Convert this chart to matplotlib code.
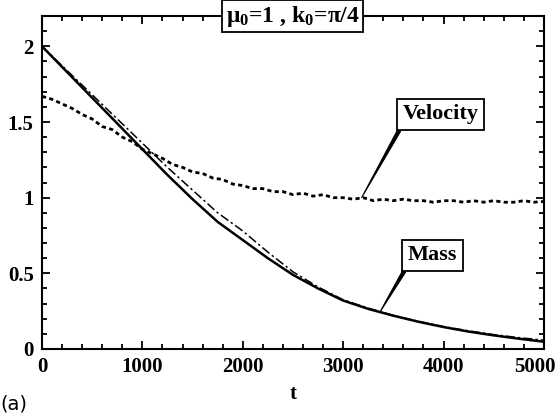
import numpy as np
import matplotlib
matplotlib.use("Agg")
import matplotlib.pyplot as plt
from matplotlib.ticker import MultipleLocator

plt.rcParams['font.family'] = ['Liberation Serif', 'DejaVu Serif']
plt.rcParams['font.weight'] = 'bold'
plt.rcParams['mathtext.fontset'] = 'custom'
plt.rcParams['mathtext.rm'] = 'Liberation Serif:bold'
plt.rcParams['mathtext.it'] = 'Liberation Serif:bold'
plt.rcParams['mathtext.bf'] = 'Liberation Serif:bold'
plt.rcParams['mathtext.default'] = 'rm'

# mass curves, t every 250
t_mass = np.arange(0, 5001, 250)
mass_solid = [2.0, 1.83, 1.66, 1.49, 1.32, 1.15, 0.99, 0.84, 0.72, 0.60, 0.49,
              0.40, 0.32, 0.265, 0.22, 0.18, 0.145, 0.115, 0.09, 0.068, 0.048]
mass_dashdot = [2.0, 1.84, 1.68, 1.52, 1.36, 1.20, 1.05, 0.90, 0.78, 0.64, 0.51,
                0.41, 0.325, 0.27, 0.222, 0.183, 0.148, 0.12, 0.095, 0.075, 0.058]

# velocity, t every 100
t_vel = np.arange(0, 5001, 100)
velocity = [1.67, 1.65, 1.62, 1.59, 1.55, 1.52, 1.47, 1.45, 1.40, 1.37, 1.32,
            1.29, 1.26, 1.22, 1.20, 1.17, 1.16, 1.13, 1.12, 1.09, 1.08,
            1.06, 1.06, 1.04, 1.04, 1.02, 1.03, 1.01, 1.02, 1.00, 1.00,
            0.99, 1.00, 0.98, 0.99, 0.98, 0.99, 0.98, 0.98, 0.97, 0.98,
            0.98, 0.97, 0.98, 0.97, 0.98, 0.97, 0.97, 0.98, 0.97, 0.975]

xticks = [0, 1000, 2000, 3000, 4000, 5000]
xticklabels = ['0', '1000', '2000', '3000', '4000', '5000']

fig = plt.figure(figsize=(5.55, 4.13), dpi=100)
ax = fig.add_axes([0.0757, 0.155, 0.9043, 0.806])

ax.plot(t_mass, mass_solid, color='black', lw=1.8, ls='-')
ax.plot(t_mass, mass_dashdot, color='black', lw=1.1, ls=(0, (6, 2, 1.5, 2)))
ax.plot(t_vel, velocity, color='black', lw=2.0, ls=(0, (1.5, 1.2)))

ax.set_xlim(0, 5000)
ax.set_ylim(0, 2.2)
ax.set_xticks(xticks)
# last label is nudged left so it stays inside the figure
ax.set_xticklabels(xticklabels[:-1] + [''])
ax.xaxis.set_minor_locator(MultipleLocator(200))
ax.yaxis.set_minor_locator(MultipleLocator(0.1))
ax.set_yticks([0, 0.5, 1, 1.5, 2])
ax.set_yticklabels(['0', '0.5', '1', '1.5', '2'])
ax.tick_params(which='both', direction='in', top=True, right=True, width=1.3,
               labelsize=15)
ax.tick_params(which='major', length=6, pad=6)
ax.tick_params(which='minor', length=3.5)
for s in ax.spines.values():
    s.set_linewidth(1.5)
for lab in ax.get_xticklabels() + ax.get_yticklabels():
    lab.set_fontweight('bold')
ax.annotate(xticklabels[-1], xy=(xticks[-1], 0), xycoords=('data', 'axes fraction'),
            xytext=(-6.5, -6), textcoords='offset points', ha='center', va='top',
            fontsize=15, fontweight='bold', annotation_clip=False)

ax.set_xlabel('t', fontsize=15, fontweight='bold', labelpad=5)

ax.text(0.5, 1.0, r'μ$_0$=1 , k$_0$=π/4', transform=ax.transAxes,
        ha='center', va='center', fontsize=17, fontweight='bold',
        bbox=dict(boxstyle='square,pad=0.15', fc='white', ec='black', lw=1.3))

ax.annotate('Velocity', xy=(3184, 1.0), xytext=(3970, 1.55),
            fontsize=16, fontweight='bold', ha='center', va='center',
            bbox=dict(boxstyle='square,pad=0.25', fc='white', ec='black', lw=1.3),
            arrowprops=dict(arrowstyle='wedge,tail_width=0.15', fc='black',
                            ec='black', lw=0.8, relpos=(0, 0),
                            shrinkA=0, shrinkB=0))
ax.annotate('Mass', xy=(3363, 0.24), xytext=(3890, 0.62),
            fontsize=16, fontweight='bold', ha='center', va='center',
            bbox=dict(boxstyle='square,pad=0.25', fc='white', ec='black', lw=1.3),
            arrowprops=dict(arrowstyle='wedge,tail_width=0.15', fc='black',
                            ec='black', lw=0.8, relpos=(0, 0),
                            shrinkA=0, shrinkB=0))

fig.text(0.0, 0.045, '(a)', fontsize=14, fontweight='normal',
         family='DejaVu Sans', ha='left', va='top')

fig.savefig('out.png', dpi=100)
